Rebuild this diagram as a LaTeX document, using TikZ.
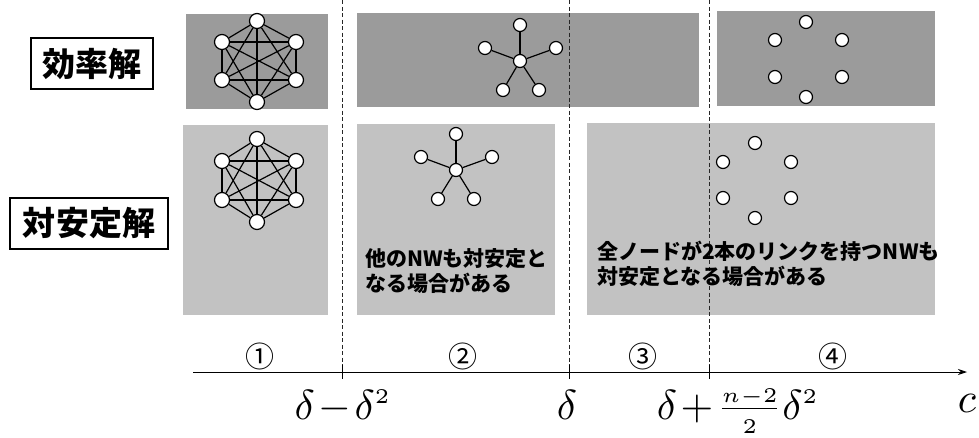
\documentclass[tikz,border=0pt]{standalone}
\usepackage{graphicx}
\usepackage{fontspec}
\newfontfamily\jp{Noto Sans CJK JP}
\usetikzlibrary{arrows.meta}
\DeclareMathSizes{10}{10}{5}{5}
\definecolor{darkbox}{RGB}{155,155,155}
\definecolor{lightbox}{RGB}{194,194,194}
\newcommand{\bigmath}[1]{\scalebox{4.2}{$\medmuskip=1.5mu #1$}}
\begin{document}
\begin{tikzpicture}[x=1pt,y=-1pt,
  vtx/.style={circle,draw=black,fill=white,line width=1.2pt,minimum size=13pt,inner sep=0pt},
  kv/.style={vtx,minimum size=15pt},
  edge/.style={line width=1.2pt,black},
  dkbox/.style={fill=darkbox},
  ltbox/.style={fill=lightbox},
  lab/.style={draw=black,fill=white,line width=1.2pt,inner sep=0pt,
    font=\jp\bfseries\fontsize{33}{38}\selectfont},
  sep/.style={line width=1pt,dash pattern=on 4pt off 2.5pt,black!85},
  note/.style={anchor=north west,align=left,inner sep=0pt,
    font=\jp\bfseries\fontsize{21}{25}\selectfont},
  circnum/.style={font=\jp\fontsize{29}{29}\selectfont,inner sep=0pt},
  mathlab/.style={anchor=base,inner sep=0pt,font=\fontsize{10}{12}\selectfont}]
\useasboundingbox (0,0) rectangle (979,437);
% boxes
\fill[dkbox] (186,14) rectangle (328,109);
\fill[ltbox] (183,125) rectangle (328,315);
\fill[dkbox] (357,13) rectangle (699,107);
\fill[ltbox] (357,124) rectangle (555,315);
\fill[dkbox] (717,11) rectangle (935,106);
\fill[ltbox] (587,123) rectangle (935,315);
% row labels
\node[lab,minimum width=122pt,minimum height=51pt] (eff) at (92,63.5) {効率解};
\node[lab,minimum width=158pt,minimum height=51pt] (stab) at (89,223.5) {対安定解};
% separators
\foreach \n/\x in {1/342,2/569,3/709}{
  \coordinate (d\n t) at (\x,0);
  \coordinate (d\n b) at (\x,365);
  \coordinate (d\n k) at (\x,379);
  \draw[sep] (d\n t) -- (d\n b);
  \draw[line width=0.9pt] (d\n b) -- (d\n k);
}
% axis
\coordinate (ax0) at (193,372);
\coordinate (ax1) at (967,372);
\draw[line width=0.9pt,-{Stealth[length=9pt,width=6pt]}] (ax0) -- (ax1);
% K6
\foreach \n/\x/\y in {1/257/21,2/296/42,3/296/80,4/257/102,5/222/80,6/222/42}
  \node[kv] (a\n) at (\x,\y) {};
\foreach \n/\x/\y in {1/257/139,2/296/161,3/296/200,4/257/222,5/222/200,6/222/161}
  \node[kv] (b\n) at (\x,\y) {};
\foreach \i/\j in {1/2,1/3,1/4,1/5,1/6,2/3,2/4,2/5,2/6,3/4,3/5,3/6,4/5,4/6,5/6}{
  \draw[edge] (a\i) -- (a\j);
  \draw[edge] (b\i) -- (b\j);
}
% stars
\foreach \n/\x/\y in {0/520/61,1/520/25,2/485/48,3/556/48,4/503/90,5/539/90}
  \node[vtx] (s\n) at (\x,\y) {};
\foreach \n/\x/\y in {0/456/170,1/456/134,2/421/157,3/492/157,4/438/199,5/474/199}
  \node[vtx] (t\n) at (\x,\y) {};
\foreach \n in {1,...,5}{
  \draw[edge] (s0) -- (s\n);
  \draw[edge] (t0) -- (t\n);
}
% empty rings
\foreach \n/\x/\y in {1/806/22,2/842/40,3/842/77,4/806/97,5/775/77,6/775/40}
  \node[vtx] (r\n) at (\x,\y) {};
\foreach \n/\x/\y in {1/755/143,2/791/162,3/791/198,4/755/218,5/723/198,6/723/162}
  \node[vtx] (q\n) at (\x,\y) {};
% notes
\node[note] (txt2) at (365,248) {他のNWも対安定と\\なる場合がある};
\node[note] (txt4) at (597,241) {全ノードが2本のリンクを持つNWも\\対安定となる場合がある};
% region numbers
\node[circnum] (c1) at (260,356) {①};
\node[circnum] (c2) at (463,356) {②};
\node[circnum] (c3) at (643,356) {③};
\node[circnum] (c4) at (833,356) {④};
% axis labels
\node[mathlab] (l1) at (343,419) {\bigmath{\delta-\delta^2}};
\node[mathlab] (l2) at (567,419) {\bigmath{\delta}};
\node[mathlab] (l3) at (738,419) {\bigmath{\delta+\frac{n-2}{2}\delta^2}};
\node[mathlab] (l4) at (967,412) {\bigmath{c}};
\end{tikzpicture}
\end{document}
